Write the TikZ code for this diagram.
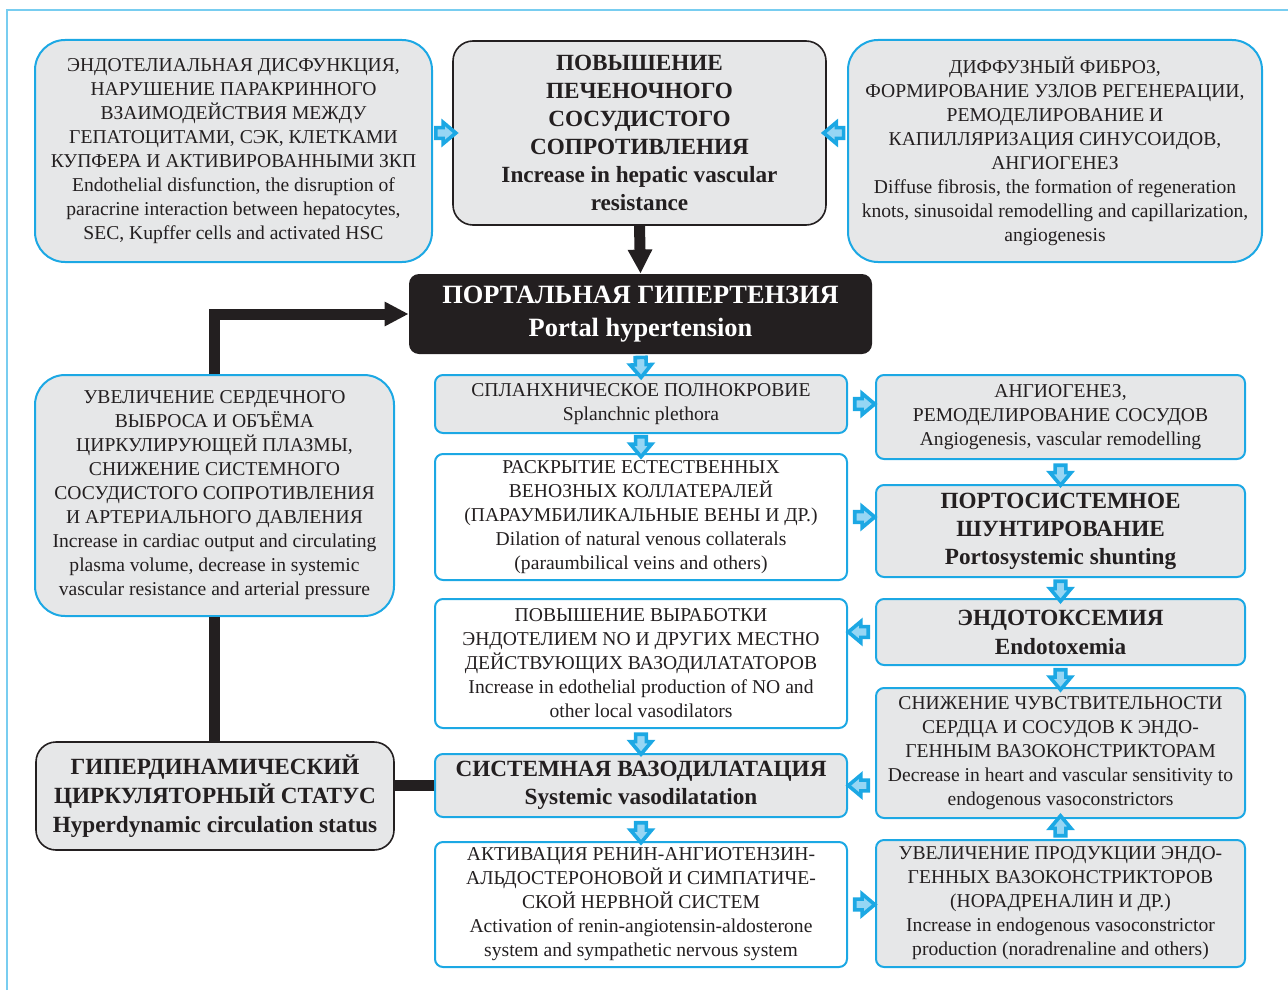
\documentclass[tikz,border=0pt]{standalone}
\usepackage{fontspec}
\setmainfont{Liberation Serif}
\usetikzlibrary{shapes.arrows,arrows.meta}
\definecolor{bblue}{RGB}{28,168,228}
\definecolor{lblue}{RGB}{150,214,244}
\definecolor{frameb}{RGB}{120,205,240}
\definecolor{boxgray}{RGB}{230,231,232}
\definecolor{ink}{RGB}{35,31,32}
\begin{document}
\begin{tikzpicture}[x=0.5pt,y=-0.5pt,
 every node/.style={inner sep=0pt, text=ink, align=center},
 reg/.style={font=\fontsize{9.8}{12}\selectfont},
 bld/.style={font=\fontsize{11.6}{14}\selectfont\bfseries},
 bbox/.style={draw=bblue, line width=1pt},
 kbox/.style={draw=ink, line width=0.8pt},
 gfill/.style={fill=boxgray},
 wfill/.style={fill=white},
 bround/.style={rounded corners=15pt},
 mround/.style={rounded corners=10pt},
 sround/.style={rounded corners=4pt},
 barrow/.style={shape=single arrow, draw=bblue, fill=lblue, line width=1.8pt,
   minimum height=10pt, minimum width=0pt, single arrow head extend=2.6pt,
   single arrow head indent=0pt, single arrow tip angle=80, inner sep=1.8pt},
 blk/.style={draw=ink, line width=5.5pt},
 blktip/.style={-{Triangle[length=12pt,width=11.5pt]}},
]
\useasboundingbox (0,0) rectangle (1288,990);
\draw[frameb, line width=1pt] (7,990) -- (7,10) -- (1288,10);

% top row
\node[bbox,gfill,bround,reg,minimum width=198.5pt,minimum height=111pt] (TL) at (233.5,151)
 {ЭНДОТЕЛИАЛЬНАЯ ДИСФУНКЦИЯ,\\НАРУШЕНИЕ ПАРАКРИННОГО\\ВЗАИМОДЕЙСТВИЯ МЕЖДУ\\ГЕПАТОЦИТАМИ, СЭК, КЛЕТКАМИ\\КУПФЕРА И АКТИВИРОВАННЫМИ ЗКП\\Endothelial disfunction, the disruption of\\paracrine interaction between hepatocytes,\\SEC, Kupffer cells and activated HSC};
\node[kbox,gfill,mround,bld,minimum width=186.5pt,minimum height=92pt] (TC) at (639.5,133)
 {ПОВЫШЕНИЕ\\ПЕЧЕНОЧНОГО\\СОСУДИСТОГО\\СОПРОТИВЛЕНИЯ\\Increase in hepatic vascular\\resistance};
\node[bbox,gfill,bround,reg,minimum width=207pt,minimum height=111pt] (TR) at (1055,151)
 {ДИФФУЗНЫЙ ФИБРОЗ,\\ФОРМИРОВАНИЕ УЗЛОВ РЕГЕНЕРАЦИИ,\\РЕМОДЕЛИРОВАНИЕ И\\КАПИЛЛЯРИЗАЦИЯ СИНУСОИДОВ,\\АНГИОГЕНЕЗ\\Diffuse fibrosis, the formation of regeneration\\knots, sinusoidal remodelling and capillarization,\\angiogenesis};

% portal hypertension
\node[fill=ink,rounded corners=5pt,text=white,font=\fontsize{13.2}{16.5}\selectfont\bfseries,
  minimum width=231.5pt,minimum height=40pt] (P) at (640.5,314)
 {ПОРТАЛЬНАЯ ГИПЕРТЕНЗИЯ\\Portal hypertension};

% left column
\node[bbox,gfill,bround,reg,minimum width=179.5pt,minimum height=120.5pt] (LM) at (214.5,495.5)
 {УВЕЛИЧЕНИЕ СЕРДЕЧНОГО\\ВЫБРОСА И ОБЪЁМА\\ЦИРКУЛИРУЮЩЕЙ ПЛАЗМЫ,\\СНИЖЕНИЕ СИСТЕМНОГО\\СОСУДИСТОГО СОПРОТИВЛЕНИЯ\\И АРТЕРИАЛЬНОГО ДАВЛЕНИЯ\\Increase in cardiac output and circulating\\plasma volume, decrease in systemic\\vascular resistance and arterial pressure};
\node[kbox,gfill,mround,font=\fontsize{11.6}{14.5}\selectfont\bfseries,minimum width=179pt,minimum height=54pt] (HD) at (215,796)
 {ГИПЕРДИНАМИЧЕСКИЙ\\ЦИРКУЛЯТОРНЫЙ СТАТУС\\Hyperdynamic circulation status};

% middle column
\node[bbox,gfill,sround,reg,minimum width=206pt,minimum height=29pt] (S1) at (641,404)
 {СПЛАНХНИЧЕСКОЕ ПОЛНОКРОВИЕ\\Splanchnic plethora};
\node[bbox,wfill,sround,reg,minimum width=206pt,minimum height=63pt] (S2) at (641,517)
 {РАСКРЫТИЕ ЕСТЕСТВЕННЫХ\\ВЕНОЗНЫХ КОЛЛАТЕРАЛЕЙ\\(ПАРАУМБИЛИКАЛЬНЫЕ ВЕНЫ И ДР.)\\Dilation of natural venous collaterals\\(paraumbilical veins and others)};
\node[bbox,wfill,sround,reg,minimum width=206pt,minimum height=64.5pt] (S3) at (641,663.5)
 {ПОВЫШЕНИЕ ВЫРАБОТКИ\\ЭНДОТЕЛИЕМ NO И ДРУГИХ МЕСТНО\\ДЕЙСТВУЮЩИХ ВАЗОДИЛАТАТОРОВ\\Increase in edothelial production of NO and\\other local vasodilators};
\node[bbox,gfill,sround,bld,minimum width=206pt,minimum height=31.5pt] (S4) at (641,785.5)
 {СИСТЕМНАЯ ВАЗОДИЛАТАЦИЯ\\Systemic vasodilatation};
\node[bbox,wfill,sround,reg,minimum width=206pt,minimum height=62.5pt] (S5) at (641,904.5)
 {АКТИВАЦИЯ РЕНИН-АНГИОТЕНЗИН-\\АЛЬДОСТЕРОНОВОЙ И СИМПАТИЧЕ-\\СКОЙ НЕРВНОЙ СИСТЕМ\\Activation of renin-angiotensin-aldosterone\\system and sympathetic nervous system};

% right column
\node[bbox,gfill,sround,reg,minimum width=184.5pt,minimum height=42pt] (R1) at (1060.5,417)
 {АНГИОГЕНЕЗ,\\РЕМОДЕЛИРОВАНИЕ СОСУДОВ\\Angiogenesis, vascular remodelling};
\node[bbox,gfill,sround,bld,minimum width=184.5pt,minimum height=46pt] (R2) at (1060.5,531)
 {ПОРТОСИСТЕМНОЕ\\ШУНТИРОВАНИЕ\\Portosystemic shunting};
\node[bbox,gfill,sround,font=\fontsize{11.6}{14.5}\selectfont\bfseries,minimum width=184.5pt,minimum height=33pt] (R3) at (1060.5,632)
 {ЭНДОТОКСЕМИЯ\\Endotoxemia};
\node[bbox,gfill,sround,reg,minimum width=184.5pt,minimum height=65pt] (R4) at (1060.5,753)
 {СНИЖЕНИЕ ЧУВСТВИТЕЛЬНОСТИ\\СЕРДЦА И СОСУДОВ К ЭНДО-\\ГЕННЫМ ВАЗОКОНСТРИКТОРАМ\\Decrease in heart and vascular sensitivity to\\endogenous vasoconstrictors};
\node[bbox,gfill,sround,reg,minimum width=184.5pt,minimum height=63.5pt] (R5) at (1060.5,903.5)
 {УВЕЛИЧЕНИЕ ПРОДУКЦИИ ЭНДО-\\ГЕННЫХ ВАЗОКОНСТРИКТОРОВ\\(НОРАДРЕНАЛИН И ДР.)\\Increase in endogenous vasoconstrictor\\production (noradrenaline and others)};

% black connectors
\draw[blk,blktip] (TC.south) -- (P.north);
\draw[blk,blktip] (LM.north) |- (P.west);
\draw[blk] (LM.south) -- (LM.south |- HD.north);
\draw[blk] (S4.west) -- (S4.west -| HD.east);

% blue arrows
\path (TL.east |- TC.west) -- (TC.west) node[midway,sloped,allow upside down,barrow]{};
\path (TR.west |- TC.east) -- (TC.east) node[midway,sloped,allow upside down,barrow]{};
\path (P.south) -- (S1.north) node[midway,sloped,allow upside down,barrow]{};
\path (S1.south) -- (S2.north) node[midway,sloped,allow upside down,barrow]{};
\path (S1.east) -- (S1.east -| R1.west) node[midway,sloped,allow upside down,barrow]{};
\path (R1.south) -- (R2.north) node[midway,sloped,allow upside down,barrow]{};
\path (S2.east) -- (S2.east -| R2.west) node[midway,sloped,allow upside down,barrow]{};
\path (R2.south) -- (R3.north) node[midway,sloped,allow upside down,barrow]{};
\path (R3.west) -- (R3.west -| S3.east) node[midway,sloped,allow upside down,barrow]{};
\path (R3.south) -- (R4.north) node[midway,sloped,allow upside down,barrow]{};
\path (S3.south) -- (S4.north) node[midway,sloped,allow upside down,barrow]{};
\path (S4.east -| R4.west) -- (S4.east) node[midway,sloped,allow upside down,barrow]{};
\path (R5.north) -- (R4.south) node[midway,sloped,allow upside down,barrow]{};
\path (S4.south) -- (S5.north) node[midway,sloped,allow upside down,barrow]{};
\path (S5.east) -- (S5.east -| R5.west) node[midway,sloped,allow upside down,barrow]{};
\end{tikzpicture}
\end{document}
